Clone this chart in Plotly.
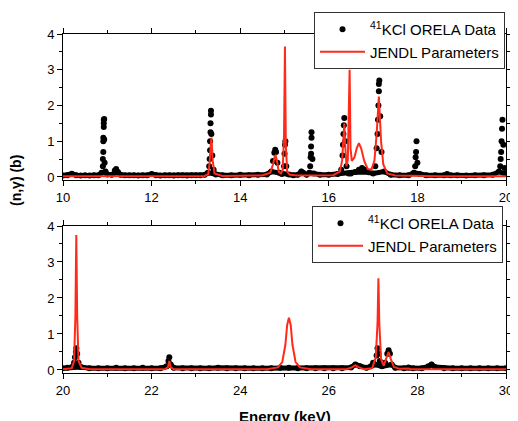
import plotly.graph_objects as go
from plotly.subplots import make_subplots

# ---------------- data ----------------
# Top panel: ORELA data (energy keV, cross section b)
top_data_x = [10.0, 10.1, 10.2, 10.3, 10.4, 10.5, 10.6, 10.7, 10.8, 10.87,
              10.9, 10.9, 10.91, 10.91, 10.91, 10.92, 10.92, 10.92, 10.93, 10.93,
              10.94, 10.96, 11.0, 11.1, 11.17, 11.2, 11.24, 11.3, 11.4, 11.5,
              11.6, 11.7, 11.8, 11.9, 12.0, 12.1, 12.2, 12.3, 12.4, 12.5,
              12.6, 12.7, 12.8, 12.9, 13.0, 13.1, 13.2, 13.27, 13.3, 13.31,
              13.32, 13.32, 13.33, 13.33, 13.34, 13.34, 13.35, 13.37, 13.4, 13.45,
              13.6, 13.8, 14.0, 14.2, 14.4, 14.6, 14.7, 14.74, 14.77, 14.79,
              14.81, 14.84, 14.88, 14.94, 14.99, 15.0, 15.01, 15.02, 15.04, 15.1,
              15.2, 15.3, 15.38, 15.42, 15.5, 15.56, 15.58, 15.59, 15.6, 15.6,
              15.61, 15.61, 15.63, 15.66, 15.8, 16.0, 16.2, 16.28, 16.31, 16.32,
              16.33, 16.34, 16.35, 16.37, 16.4, 16.45, 16.5, 16.6, 16.68, 16.75,
              16.82, 16.9, 17.0, 17.05, 17.08, 17.1, 17.11, 17.12, 17.13, 17.13,
              17.14, 17.16, 17.19, 17.25, 17.4, 17.6, 17.8, 17.92, 17.95, 17.96,
              17.97, 17.98, 18.0, 18.05, 18.2, 18.4, 18.6, 18.67, 18.75, 18.9,
              19.1, 19.3, 19.5, 19.7, 19.84, 19.87, 19.88, 19.89, 19.9, 19.91,
              19.92, 19.94, 19.97, 20.0]
top_data_y = [0.04, 0.05, 0.09, 0.05, 0.04, 0.05, 0.04, 0.05, 0.05, 0.12,
              0.3, 0.5, 0.7, 1.0, 1.1, 1.4, 1.5, 1.6, 1.62, 1.05,
              0.4, 0.15, 0.07, 0.06, 0.18, 0.22, 0.14, 0.06, 0.05, 0.05,
              0.05, 0.04, 0.05, 0.05, 0.08, 0.05, 0.04, 0.05, 0.05, 0.04,
              0.05, 0.05, 0.04, 0.05, 0.05, 0.05, 0.06, 0.12, 0.3, 0.5,
              0.75, 1.0, 1.25, 1.5, 1.75, 1.85, 1.2, 0.6, 0.2, 0.07,
              0.05, 0.05, 0.06, 0.05, 0.06, 0.07, 0.15, 0.45, 0.68, 0.76,
              0.7, 0.4, 0.12, 0.08, 0.3, 0.65, 0.9, 1.0, 0.3, 0.07,
              0.05, 0.06, 0.15, 0.12, 0.06, 0.12, 0.3, 0.55, 0.65, 0.85,
              1.1, 1.25, 0.5, 0.1, 0.06, 0.06, 0.08, 0.2, 0.6, 0.9,
              1.2, 1.45, 1.65, 1.0, 0.3, 0.1, 0.1, 0.14, 0.2, 0.25,
              0.2, 0.13, 0.1, 0.3, 0.8, 1.2, 1.6, 2.0, 2.4, 2.6,
              2.7, 1.7, 0.7, 0.15, 0.06, 0.05, 0.05, 0.12, 0.3, 0.55,
              0.7, 1.0, 0.4, 0.08, 0.05, 0.05, 0.05, 0.08, 0.05, 0.05,
              0.04, 0.05, 0.05, 0.06, 0.15, 0.3, 0.5, 0.7, 1.0, 1.35,
              1.6, 0.9, 0.25, 0.08]

# Top panel: JENDL parameter curve
top_fit_x = [10.0, 12.0, 13.2, 13.28, 13.31, 13.33, 13.35, 13.38, 13.42, 13.6,
             14.5, 14.68, 14.74, 14.78, 14.8, 14.83, 14.87, 14.92, 14.96, 14.99,
             15.01, 15.03, 15.06, 15.12, 15.3, 16.1, 16.25, 16.3, 16.33, 16.35,
             16.37, 16.4, 16.43, 16.45, 16.47, 16.49, 16.52, 16.58, 16.63, 16.68,
             16.73, 16.8, 16.88, 16.96, 17.03, 17.08, 17.13, 17.18, 17.23, 17.32,
             17.5, 18.5, 20.0]
top_fit_y = [0.02, 0.02, 0.03, 0.08, 0.4, 0.8, 1.1, 0.45, 0.1, 0.03,
             0.04, 0.12, 0.35, 0.58, 0.6, 0.45, 0.15, 0.1, 0.2, 1.2,
             3.65, 0.9, 0.15, 0.06, 0.04, 0.05, 0.15, 0.45, 1.1, 1.5,
             0.9, 0.3, 0.5, 1.4, 3.0, 0.8, 0.45, 0.55, 0.8, 0.95,
             0.8, 0.45, 0.22, 0.2, 0.45, 1.2, 2.25, 1.0, 0.35, 0.1,
             0.04, 0.02, 0.02]

# Bottom panel: ORELA data
bot_data_x = [20.0, 20.1, 20.2, 20.25, 20.27, 20.29, 20.3, 20.32, 20.35, 20.4,
              20.6, 20.8, 21.0, 21.2, 21.4, 21.6, 21.8, 22.0, 22.2, 22.34,
              22.38, 22.4, 22.43, 22.5, 22.7, 22.9, 23.1, 23.3, 23.5, 23.7,
              23.9, 24.1, 24.3, 24.5, 24.7, 24.9, 25.1, 25.3, 25.5, 25.7,
              25.9, 26.1, 26.3, 26.5, 26.6, 26.7, 26.85, 26.95, 27.0, 27.04,
              27.08, 27.1, 27.12, 27.15, 27.2, 27.27, 27.32, 27.35, 27.38, 27.42,
              27.5, 27.7, 27.8, 27.9, 28.1, 28.25, 28.32, 28.4, 28.6, 28.8,
              29.0, 29.2, 29.4, 29.6, 29.8, 30.0]
bot_data_y = [0.05, 0.06, 0.08, 0.2, 0.35, 0.5, 0.6, 0.45, 0.2, 0.08,
              0.05, 0.05, 0.05, 0.06, 0.05, 0.05, 0.06, 0.05, 0.05, 0.1,
              0.25, 0.35, 0.15, 0.06, 0.05, 0.05, 0.05, 0.05, 0.06, 0.05,
              0.05, 0.05, 0.05, 0.05, 0.05, 0.06, 0.06, 0.05, 0.05, 0.05,
              0.05, 0.05, 0.05, 0.07, 0.15, 0.1, 0.06, 0.1, 0.2, 0.15,
              0.4, 0.6, 0.45, 0.25, 0.1, 0.2, 0.45, 0.55, 0.45, 0.15,
              0.06, 0.05, 0.07, 0.05, 0.05, 0.1, 0.15, 0.08, 0.05, 0.05,
              0.05, 0.05, 0.05, 0.05, 0.05, 0.05]

# Bottom panel: JENDL parameter curve
bot_fit_x = [20.0, 20.2, 20.25, 20.28, 20.3, 20.32, 20.35, 20.42, 20.6, 22.3,
             22.37, 22.4, 22.43, 22.5, 24.6, 24.85, 24.95, 25.02, 25.06, 25.1,
             25.14, 25.18, 25.25, 25.35, 25.6, 26.4, 26.52, 26.6, 26.68, 26.8,
             26.98, 27.06, 27.1, 27.12, 27.14, 27.18, 27.24, 27.3, 27.35, 27.4,
             27.47, 27.6, 27.8, 27.85, 28.0, 30.0]
bot_fit_y = [0.02, 0.05, 0.25, 1.5, 3.75, 1.5, 0.25, 0.06, 0.02, 0.02,
             0.08, 0.25, 0.08, 0.02, 0.02, 0.07, 0.22, 0.7, 1.25, 1.45,
             1.25, 0.7, 0.22, 0.07, 0.02, 0.02, 0.07, 0.13, 0.07, 0.02,
             0.05, 0.35, 1.3, 2.55, 1.3, 0.3, 0.12, 0.3, 0.5, 0.3,
             0.08, 0.03, 0.04, 0.02, 0.02, 0.02]

x_ranges = [[10, 20], [20, 30]]
legend_names = ["<sup>41</sup>KCl ORELA Data", "JENDL Parameters"]

# ---------------- figure ----------------
# The page body has an 8px margin, so the figure is shrunk by that much and
# every target position (measured in window pixels) is shifted accordingly.
OFF = 8
WIN_W, WIN_H = 518, 421
W, H = WIN_W - OFF, WIN_H - OFF
# plot-area edges in window pixels
L_PX, R_PX, T_PX, B_PX = 63, 506, 34, 373
ml, mr = L_PX - OFF, W - (R_PX - OFF)
mt, mb = T_PX - OFF, H - (B_PX - OFF)
pw, ph = W - ml - mr, H - mt - mb

def py(p):  # window pixel row -> paper y
    return (B_PX - p) / ph

def px(p):  # window pixel column -> paper x
    return (p - L_PX) / pw

fig = make_subplots(rows=2, cols=1, vertical_spacing=0)
fig.update_layout(yaxis=dict(domain=[py(180), 1.0]),
                  yaxis2=dict(domain=[0.0, py(226)]))

FONT = "Liberation Sans, Arial, Helvetica, sans-serif"
RED = "#ff2a1a"
BAND_MAX = 0.15  # points at or below this level form the dense baseline band

panels = [(top_data_x, top_data_y, top_fit_x, top_fit_y, "legend"),
          (bot_data_x, bot_data_y, bot_fit_x, bot_fit_y, "legend2")]

for i, (dx, dy, fx, fy, lg) in enumerate(panels, start=1):
    bx = [x for x, y in zip(dx, dy) if y <= BAND_MAX]
    by = [y for y in dy if y <= BAND_MAX]
    # dense band of measured points near the baseline
    fig.add_trace(go.Scatter(x=bx, y=by, mode="lines",
                             line=dict(color="black", width=5),
                             showlegend=False, hoverinfo="skip"), row=i, col=1)
    fig.add_trace(go.Scatter(x=dx, y=dy, mode="markers", name=legend_names[0],
                             marker=dict(color="black", size=6),
                             legend=lg), row=i, col=1)
    fig.add_trace(go.Scatter(x=fx, y=fy, mode="lines", name=legend_names[1],
                             line=dict(color=RED, width=2),
                             legend=lg), row=i, col=1)
    fig.update_xaxes(range=x_ranges[i - 1], row=i, col=1)

axis_common = dict(showline=True, linecolor="black", linewidth=1,
                   mirror="allticks", ticks="outside", tickcolor="black",
                   tickwidth=1, showgrid=False, zeroline=False,
                   ticklabeloverflow="allow",
                   tickfont=dict(family=FONT, size=13, color="black"))
fig.update_xaxes(dtick=2, ticklen=5,
                 minor=dict(dtick=1, ticks="outside", ticklen=3,
                            tickcolor="black", showgrid=False),
                 **axis_common)
fig.update_yaxes(range=[-0.085, 4], dtick=1, ticklen=5,
                 minor=dict(dtick=0.5, ticks="outside", ticklen=3,
                            tickcolor="black", showgrid=False),
                 **axis_common)

legend_style = dict(bgcolor="white", bordercolor="#333333", borderwidth=1,
                    font=dict(family=FONT, size=15, color="black"),
                    xanchor="left", yanchor="top", itemwidth=45,
                    tracegroupgap=0)
fig.update_layout(
    width=W, height=H,
    margin=dict(l=ml, r=mr, t=mt, b=mb, autoexpand=False),
    paper_bgcolor="white", plot_bgcolor="white",
    legend=dict(x=px(314), y=py(12), **legend_style),
    legend2=dict(x=px(312), y=py(206), **legend_style),
    annotations=[
        dict(text="<b>(n,γ) (b)</b>", xref="paper", yref="paper",
             x=px(16), y=py(181), xanchor="center", yanchor="middle",
             textangle=-90, showarrow=False,
             font=dict(family=FONT, size=14, color="black")),
        dict(text="<b>Energy (keV)</b>", xref="paper", yref="paper",
             x=px(285), y=py(406), xanchor="center", yanchor="top",
             showarrow=False,
             font=dict(family=FONT, size=15, color="black")),
    ],
)

fig.write_html("out.html")
